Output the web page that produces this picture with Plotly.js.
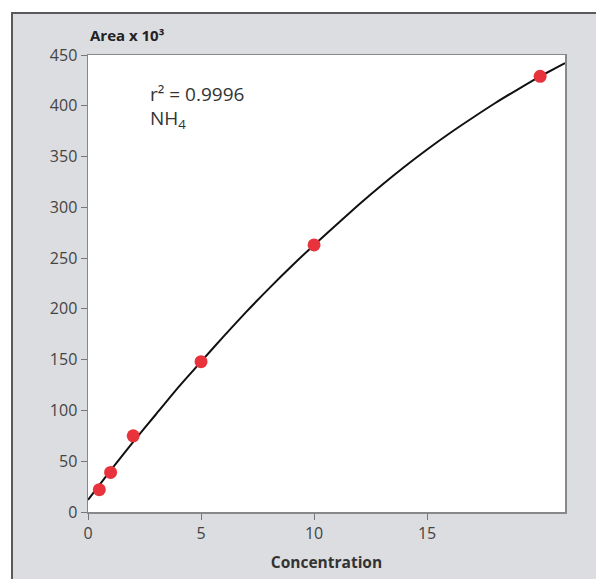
<!DOCTYPE html>
<html>
<head>
<meta charset="utf-8">
<script src="https://cdn.plot.ly/plotly-3.0.1.min.js"></script>
<style>
  html, body { margin: 0; padding: 0; width: 596px; height: 579px; background: #ffffff; overflow: hidden; }
  #frame { position: absolute; left: 11px; top: 12px; width: 585px; height: 567px; background: #dcdde0;
           border-top: 2px solid #5a5a5a; border-left: 2px solid #5a5a5a; box-sizing: border-box; }
  #chart { position: absolute; left: 0; top: 0; width: 596px; height: 579px; }
</style>
</head>
<body>
<div id="frame"></div>
<div id="chart"></div>
<script>
// Measured calibration points
const concentration = [0.5, 1, 2, 5, 10, 20];
const area = [22, 39, 75, 148, 263, 429];

// Fitted curve
const fitX = [0, 1, 2, 3, 4, 5, 6, 7, 8, 9, 10, 11, 12, 13, 14, 15, 16, 17, 18, 19, 20, 21.1];
const fitY = [12, 41, 69, 96, 123, 148, 173, 197, 220, 242, 263, 283, 303, 322, 340, 357, 373, 388, 402.5, 416, 429, 442];

const xTicks = [0, 5, 10, 15];
const yTicks = [0, 50, 100, 150, 200, 250, 300, 350, 400, 450];

const fontFam = '"Open Sans", "Noto Sans", sans-serif';

const traces = [
  { x: fitX, y: fitY, mode: 'lines', line: { color: '#111111', width: 2, shape: 'spline', smoothing: 0.6 }, hoverinfo: 'skip' },
  { x: concentration, y: area, mode: 'markers', marker: { color: '#e8333c', size: 13 } }
];

const layout = {
  width: 596, height: 579,
  margin: { l: 88, r: 31, t: 55, b: 67 },
  paper_bgcolor: 'rgba(0,0,0,0)',
  plot_bgcolor: '#ffffff',
  showlegend: false,
  font: { family: fontFam, color: '#3a3a3a', size: 16 },
  xaxis: {
    range: [0, 21.1], tickvals: xTicks, ticktext: xTicks.map(String),
    ticks: 'outside', ticklen: 6, tickcolor: '#777', showline: true, linecolor: '#888', linewidth: 1.5,
    mirror: true, showgrid: false, zeroline: false,
    tickfont: { size: 16, color: '#444', family: fontFam },
    title: { text: '<b>Concentration</b>', font: { size: 15.5, color: '#333', family: fontFam }, standoff: 14 }
  },
  yaxis: {
    range: [0, 450], tickvals: yTicks, ticktext: yTicks.map(String),
    ticks: 'outside', ticklen: 6, tickcolor: '#777', showline: true, linecolor: '#888', linewidth: 1.5,
    mirror: true, showgrid: false, zeroline: false,
    tickfont: { size: 16, color: '#444', family: fontFam }
  },
  annotations: [
    { xref: 'paper', yref: 'paper', x: 0, y: 1, xanchor: 'left', yanchor: 'bottom', yshift: 8,
      text: '<b>Area x 10³</b>', showarrow: false, font: { size: 15, color: '#222', family: fontFam } },
    { xref: 'paper', yref: 'paper', x: 0.126, y: 0.914, xanchor: 'left', yanchor: 'middle', align: 'left',
      text: 'r² = 0.9996', showarrow: false, font: { size: 19, color: '#333', family: fontFam } },
    { xref: 'paper', yref: 'paper', x: 0.126, y: 0.86, xanchor: 'left', yanchor: 'middle', align: 'left',
      text: 'NH<sub>4</sub>', showarrow: false, font: { size: 19, color: '#333', family: fontFam } }
  ]
};

Plotly.newPlot('chart', traces, layout, { displayModeBar: false, staticPlot: true });
</script>
</body>
</html>
